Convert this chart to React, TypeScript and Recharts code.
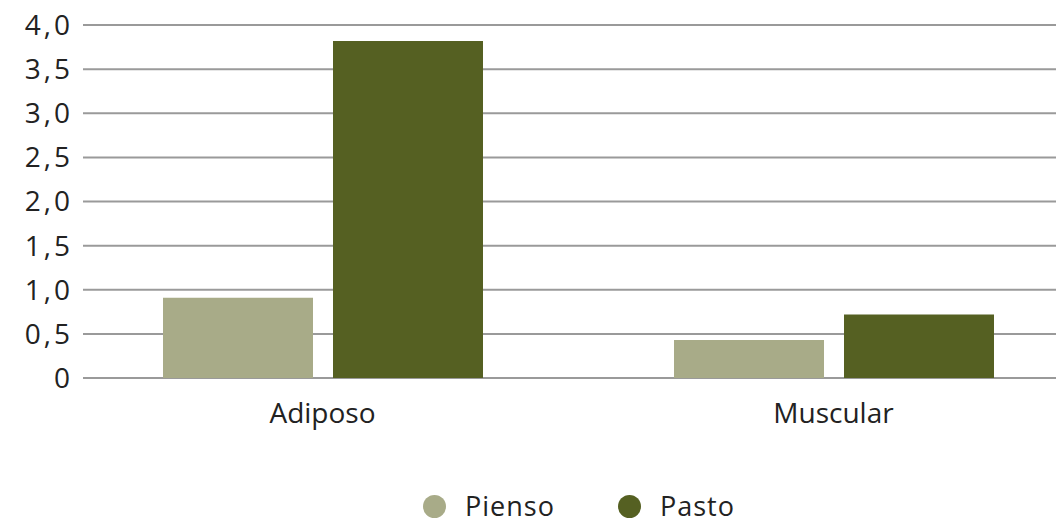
import React from 'react';
import { BarChart, Bar, XAxis, YAxis, CartesianGrid, Legend } from 'recharts';

const categories = ['Adiposo', 'Muscular'];
const piensoValues = [0.91, 0.43];
const pastoValues = [3.82, 0.72];
const yTicks = [0, 0.5, 1, 1.5, 2, 2.5, 3, 3.5, 4];

const data = categories.map((c, i) => ({ name: c, Pienso: piensoValues[i], Pasto: pastoValues[i] }));

const FONT = '"Open Sans", Lato, sans-serif';
const fmt = (v: number) => (v === 0 ? '0' : v.toFixed(1).replace('.', ','));

const legendItems = [
  { label: 'Pienso', color: '#a8ab88' },
  { label: 'Pasto', color: '#556022' },
];

const LegendContent = () => (
  <div style={{ display: 'flex', alignItems: 'center', height: 32, paddingLeft: 423, fontFamily: FONT, fontSize: 27, color: '#222', lineHeight: '32px' }}>
    {legendItems.map((it, i) => (
      <div key={it.label} style={{ display: 'flex', alignItems: 'center', width: i === 0 ? 195 : 'auto', height: 32 }}>
        <svg width={23} height={23} style={{ marginRight: 19, display: 'block' }}>
          <circle cx={11.5} cy={11.5} r={11.5} fill={it.color} />
        </svg>
        <span style={{ letterSpacing: 1 }}>{it.label}</span>
      </div>
    ))}
  </div>
);

export default function App() {
  return (
    <div style={{ position: 'absolute', left: 0, top: 0, width: 1056, height: 525, background: '#fff' }}>
      <BarChart width={1056} height={525} data={data} margin={{ top: 25, right: 0, left: 0, bottom: 0 }} barGap={20} barSize={150}>
        <CartesianGrid vertical={false} stroke="#9a9a9a" strokeWidth={2} />
        <XAxis
          dataKey="name"
          height={147}
          axisLine={false}
          tickLine={false}
          tickSize={0}
          tickMargin={25}
          padding={{ left: -16, right: -33 }}
          tick={{ fill: '#222', fontSize: 28, fontFamily: FONT }}
        />
        <YAxis
          width={83}
          domain={[0, 4]}
          ticks={yTicks}
          tickFormatter={fmt}
          axisLine={false}
          tickLine={false}
          tickSize={0}
          tickMargin={10}
          tick={{ fill: '#222', fontSize: 28, fontFamily: FONT, letterSpacing: 3 }}
        />
        <Legend
          layout="horizontal"
          verticalAlign="middle"
          align="center"
          wrapperStyle={{ top: 490, left: 0, width: 1056 }}
          content={<LegendContent />}
        />
        <Bar dataKey="Pienso" fill="#a8ab88" isAnimationActive={false} />
        <Bar dataKey="Pasto" fill="#556022" isAnimationActive={false} />
      </BarChart>
    </div>
  );
}
